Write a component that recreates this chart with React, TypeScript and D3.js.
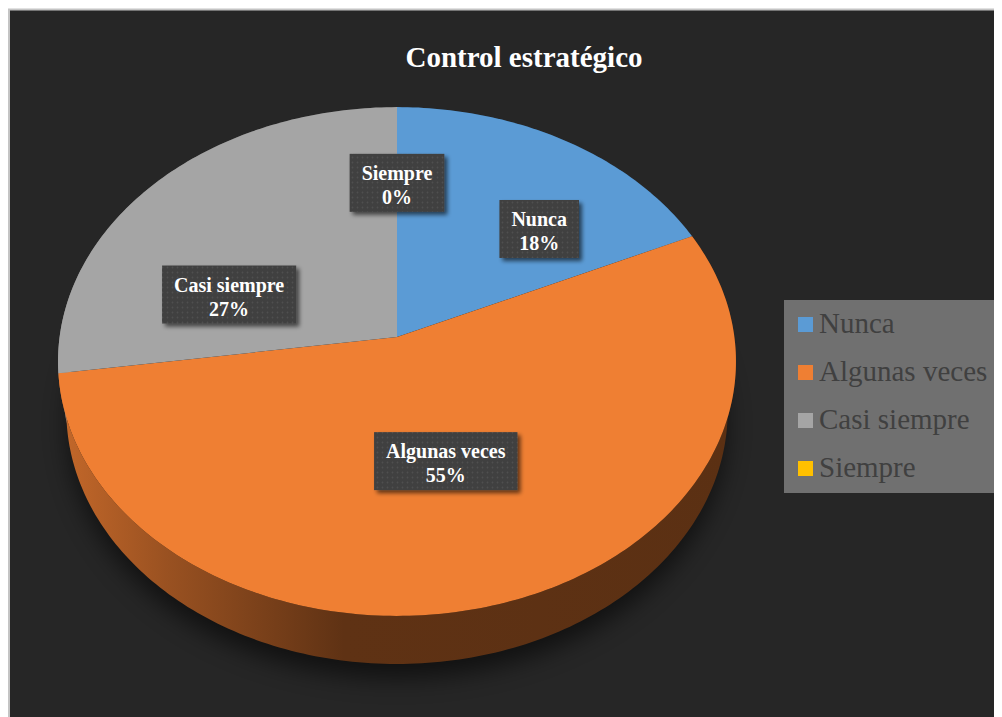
import React from "react";
import * as d3 from "d3";

// ---- data ----
const categories = ["Nunca", "Algunas veces", "Casi siempre", "Siempre"];
const counts = [2, 6, 3, 0];
const percentLabels = ["18%", "55%", "27%", "0%"];
const sliceColors = ["#5B9BD5", "#EF7F33", "#A5A5A5", "#FFC000"];
const title = "Control estratégico";

// ---- layout (page coordinates; svg sits at the 8px body margin) ----
const W = 994;
const Hsvg = 709;
const CX = 397;
const CY = 337;
const DIST = 6.9;
const FOCAL = 2328;
const SIN_T = 0.747;
const COS_T = Math.sqrt(1 - SIN_T * SIN_T);
const DEPTH = 0.23;
// label anchors: angle nudge (deg) from slice middle, radius fraction
const labelNudge = [
  [11.8, 0.627],
  [0, 0.49],
  [-22.2, 0.534],
  [0, 0.65],
];
const serif = "Liberation Serif";

function project(a: number, r: number, Y: number): [number, number] {
  const X = r * Math.sin(a);
  const Z = -r * Math.cos(a);
  const yc = Y * COS_T - Z * SIN_T;
  const d = DIST - Y * SIN_T - Z * COS_T;
  return [CX + (FOCAL * X) / d, CY - (FOCAL * yc) / d];
}

function arcPts(a0: number, a1: number, Y: number): [number, number][] {
  const n = Math.max(2, Math.ceil(((a1 - a0) / (2 * Math.PI)) * 360));
  return d3.range(n + 1).map((i) => project(a0 + ((a1 - a0) * i) / n, 1, Y));
}

function measure(text: string, font: string): number {
  const c = document.createElement("canvas");
  const ctx = c.getContext("2d")!;
  ctx.font = font;
  return ctx.measureText(text).width;
}

export default function App() {
  const pie = d3
    .pie<number>()
    .sort(null)
    .value((d) => d)
    .startAngle(0)
    .endAngle(2 * Math.PI);
  const arcs = pie(counts);
  const line = d3.line();

  const shadowPath = line(arcPts(0, 2 * Math.PI, -DEPTH - 0.04))! + "Z";

  const labelFont = `bold 20px "Liberation Serif"`;

  return (
    <svg width={W} height={Hsvg} style={{ display: "block" }}>
      <defs>
        <filter id="pieShadow" x="-20%" y="-20%" width="140%" height="140%">
          <feGaussianBlur stdDeviation="12" />
        </filter>
        <filter id="boxShadow" x="-20%" y="-20%" width="150%" height="150%">
          <feGaussianBlur in="SourceAlpha" stdDeviation="2" />
          <feOffset dx="3" dy="3" result="ob" />
          <feComponentTransfer>
            <feFuncA type="linear" slope="0.6" />
          </feComponentTransfer>
          <feMerge>
            <feMergeNode />
            <feMergeNode in="SourceGraphic" />
          </feMerge>
        </filter>
        <pattern id="dots" width="5" height="5" patternUnits="userSpaceOnUse">
          <rect width="5" height="5" fill="#404040" />
          <circle cx="2.5" cy="2.5" r="0.9" fill="#505050" />
        </pattern>
        {arcs.map((a, i) => {
          const base = d3.color(sliceColors[i])!;
          return (
            <linearGradient
              key={i}
              id={`side${i}`}
              gradientUnits="userSpaceOnUse"
              x1={60}
              x2={736}
              y1={0}
              y2={0}
            >
              <stop offset="0" stopColor={base.darker(0.55).formatHex()} />
              <stop offset="0.16" stopColor={base.darker(1.25).formatHex()} />
              <stop offset="0.42" stopColor={base.darker(2.6).formatHex()} />
              <stop offset="1" stopColor={base.darker(2.7).formatHex()} />
            </linearGradient>
          );
        })}
      </defs>
      <g transform="translate(-8,-8)">
        <rect x={9} y={9.5} width={W + 10} height={Hsvg + 10} fill="#262626" stroke="#c4c4c4" strokeWidth={2} />

        {/* soft shadow under the pie */}
        <path d={shadowPath} fill="#000" opacity={0.55} filter="url(#pieShadow)" transform="translate(0,6)" />

        {/* sides */}
        {arcs.map((a, i) => {
          if (a.endAngle - a.startAngle <= 0) return null;
          const top = arcPts(a.startAngle, a.endAngle, 0);
          const bot = arcPts(a.startAngle, a.endAngle, -DEPTH).reverse();
          return <path key={`s${i}`} d={line([...top, ...bot])! + "Z"} fill={`url(#side${i})`} />;
        })}

        {/* top faces */}
        {arcs.map((a, i) => {
          if (a.endAngle - a.startAngle <= 0) return null;
          const pts = [project(0, 0, 0), ...arcPts(a.startAngle, a.endAngle, 0)];
          return <path key={`t${i}`} d={line(pts)! + "Z"} fill={sliceColors[i]} />;
        })}

        {/* data labels */}
        {arcs.map((a, i) => {
          const mid = (a.startAngle + a.endAngle) / 2 + (labelNudge[i][0] * Math.PI) / 180;
          const [lx, ly] = project(mid, labelNudge[i][1], 0);
          const tw = Math.max(measure(categories[i], labelFont), measure(percentLabels[i], labelFont));
          const bw = tw + 24;
          const bh = 58;
          return (
            <g key={`l${i}`}>
              <rect x={lx - bw / 2} y={ly - bh / 2} width={bw} height={bh} fill="url(#dots)" filter="url(#boxShadow)" />
              <text
                x={lx}
                textAnchor="middle"
                fill="#fff"
                fontFamily={serif}
                fontWeight="bold"
                fontSize={20}
              >
                <tspan x={lx} y={ly - bh / 2 + 26}>
                  {categories[i]}
                </tspan>
                <tspan x={lx} y={ly - bh / 2 + 50}>
                  {percentLabels[i]}
                </tspan>
              </text>
            </g>
          );
        })}

        {/* title */}
        <text x={524} y={67} textAnchor="middle" fill="#fff" fontFamily={serif} fontWeight="bold" fontSize={29}>
          {title}
        </text>

        {/* legend */}
        <g>
          <rect x={784} y={300} width={216} height={193} fill="#707070" />
          {categories.map((c, i) => {
            const by = 333 + i * 48;
            return (
              <g key={`g${i}`}>
                <rect x={798} y={by - 16} width={15} height={15} fill={sliceColors[i]} />
                <text x={819} y={by} fill="#404040" fontFamily={serif} fontSize={29}>
                  {c}
                </text>
              </g>
            );
          })}
        </g>
      </g>
    </svg>
  );
}
